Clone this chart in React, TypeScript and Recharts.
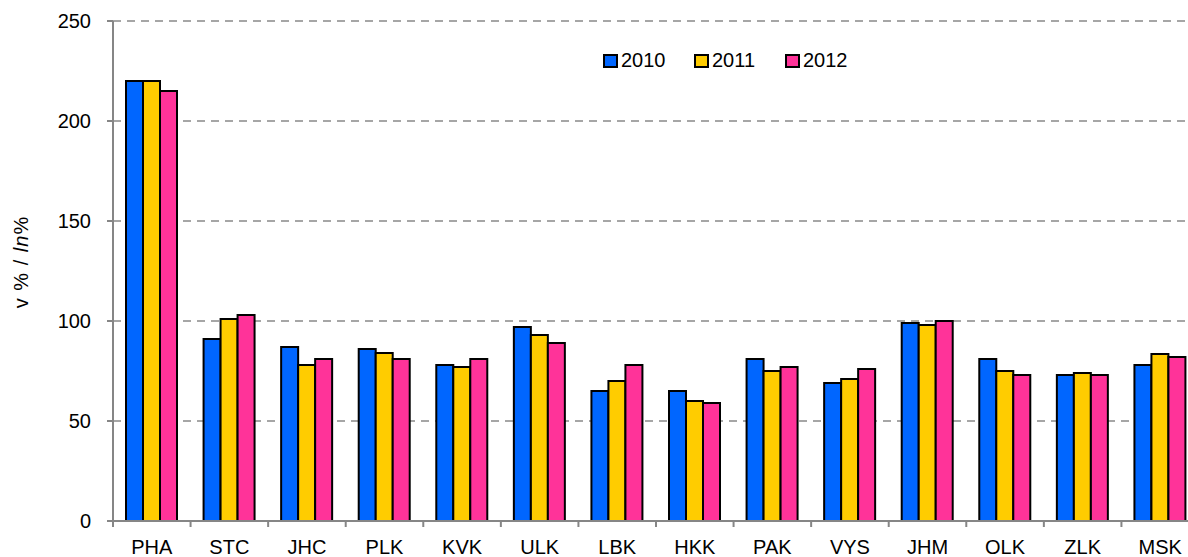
import { BarChart, Bar, XAxis, YAxis, CartesianGrid, Legend } from 'recharts';

const regions = ['PHA', 'STC', 'JHC', 'PLK', 'KVK', 'ULK', 'LBK', 'HKK', 'PAK', 'VYS', 'JHM', 'OLK', 'ZLK', 'MSK'];
const v2010 = [220, 91, 87, 86, 78, 97, 65, 65, 81, 69, 99, 81, 73, 78];
const v2011 = [220, 101, 78, 84, 77, 93, 70, 60, 75, 71, 98, 75, 74, 83.5];
const v2012 = [215, 103, 81, 81, 81, 89, 78, 59, 77, 76, 100, 73, 73, 82];
const yTicks = [0, 50, 100, 150, 200, 250];

const data = regions.map((r, i) => ({
    region: r,
    y2010: v2010[i],
    y2011: v2011[i],
    y2012: v2012[i],
}));

const FONT = '"Liberation Sans", Arial, sans-serif';
const CHART_W = 1202;
const CHART_H = 557;
const Y_AXIS_W = 113;
const RIGHT = 3;
// half of one category band, used to put the x tick marks on the category boundaries
const HALF_BAND = (CHART_W - Y_AXIS_W - RIGHT) / regions.length / 2;

const XTick = ({ x, y, payload }: any) => (
    <g>
        <line x1={x - HALF_BAND} x2={x - HALF_BAND} y1={y} y2={y + 6} stroke="#868686" strokeWidth={2} />
        <text x={x} y={y + 33} textAnchor="middle" fontSize={20} fontFamily={FONT} fill="#000">
            {payload.value}
        </text>
    </g>
);

const LegendBox = ({ payload }: any) => (
    <div style={{ display: 'flex', fontFamily: FONT, fontSize: 20, color: '#000' }}>
        {(payload || []).map((p: any) => (
            <div key={p.value} style={{ display: 'flex', alignItems: 'center', width: 91 }}>
                <span
                    style={{
                        display: 'inline-block',
                        width: 11,
                        height: 10,
                        background: p.color,
                        border: '2px solid #000',
                        marginRight: 3,
                    }}
                />
                <span>{p.value}</span>
            </div>
        ))}
    </div>
);

const YLabel = () => (
    <text
        x={28}
        y={262}
        transform="rotate(-90, 28, 262)"
        textAnchor="middle"
        fontSize={20}
        fontFamily={FONT}
        letterSpacing={1}
        fill="#000"
    >
        v % / <tspan fontStyle="italic">ln</tspan>%
    </text>
);

export default function App() {
    return (
        <div
            style={{
                position: 'fixed',
                left: 0,
                top: 0,
                width: 1188,
                height: 557,
                overflow: 'hidden',
                background: '#fff',
            }}
        >
            <BarChart
                width={CHART_W}
                height={CHART_H}
                data={data}
                margin={{ top: 21, right: RIGHT, bottom: 0, left: 0 }}
                barGap={0}
                barSize={17}
            >
                <CartesianGrid vertical={false} stroke="#A6A6A6" strokeWidth={2} strokeDasharray="8 6" />
                <XAxis
                    dataKey="region"
                    height={36}
                    tickLine={false}
                    tickSize={0}
                    tickMargin={0}
                    axisLine={{ stroke: '#868686', strokeWidth: 2 }}
                    tick={<XTick />}
                    interval={0}
                />
                <YAxis
                    width={Y_AXIS_W}
                    domain={[0, 250]}
                    ticks={yTicks}
                    interval={0}
                    tickSize={6}
                    tickMargin={16}
                    tickLine={{ stroke: '#868686', strokeWidth: 2 }}
                    axisLine={{ stroke: '#868686', strokeWidth: 2 }}
                    tick={{ fontSize: 20, fontFamily: FONT, fill: '#000' }}
                    label={<YLabel />}
                />
                <Legend
                    verticalAlign="middle"
                    align="center"
                    content={<LegendBox />}
                    wrapperStyle={{ position: 'absolute', top: 49, left: 603, width: 'auto' }}
                />
                <Bar dataKey="y2010" name="2010" fill="#0066FF" stroke="#000" strokeWidth={2} isAnimationActive={false} />
                <Bar dataKey="y2011" name="2011" fill="#FFCC00" stroke="#000" strokeWidth={2} isAnimationActive={false} />
                <Bar dataKey="y2012" name="2012" fill="#FF3399" stroke="#000" strokeWidth={2} isAnimationActive={false} />
            </BarChart>
        </div>
    );
}
